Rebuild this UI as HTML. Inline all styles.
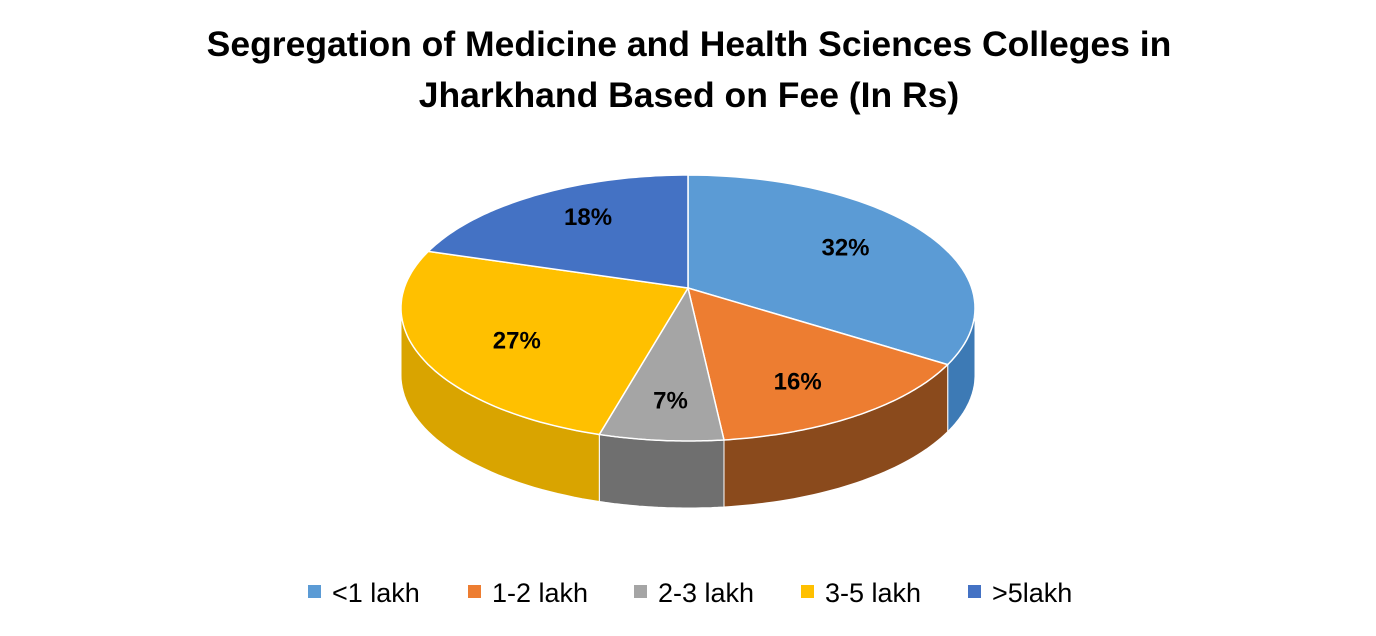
<!DOCTYPE html>
<html><head><meta charset="utf-8"><style>
body{margin:0;width:1376px;height:631px;background:#fff;font-family:"Liberation Sans",sans-serif;overflow:hidden}
</style></head><body>
<svg id="chart" width="1376" height="631">
<text x="689" y="56" text-anchor="middle" font-size="35.5" font-weight="bold" fill="#000">Segregation of Medicine and Health Sciences Colleges in</text>
<text x="689" y="107" text-anchor="middle" font-size="35.5" font-weight="bold" fill="#000">Jharkhand Based on Fee (In Rs)</text>
<g id="pie"></g>
<g id="legend"></g>
</svg>
<script>
const categories = ["<1 lakh","1-2 lakh","2-3 lakh","3-5 lakh",">5lakh"];
const values = [32,16,7,27,18];
const labels = ["32%","16%","7%","27%","18%"];
const colors = ["#5B9BD5","#ED7D31","#A5A5A5","#FFC000","#4472C4"];
const sideColors = ["#3d7ab5","#8a4a1c","#6f6f6f","#d9a400","#2f549a"];
const NS="http://www.w3.org/2000/svg";
const cx=688, cy=308, rx=287, ry=133, depth=67, apexY=288;
const pie=document.getElementById('pie');
const total=values.reduce((a,b)=>a+b,0);
function pt(t,dy){return [cx+rx*Math.sin(t), cy-ry*Math.cos(t)+(dy||0)];}
function arc(t1,t2,dy,steps){let s=[];for(let i=0;i<=steps;i++){const t=t1+(t2-t1)*i/steps;s.push(pt(t,dy));}return s;}
let angles=[];let acc=0;
values.forEach(v=>{const a=acc/total*2*Math.PI;acc+=v;angles.push([a,acc/total*2*Math.PI]);});
angles.forEach(([a,b],i)=>{
  const lo=Math.max(a,Math.PI/2), hi=Math.min(b,3*Math.PI/2);
  if(hi<=lo) return;
  const top=arc(lo,hi,0,40), bot=arc(hi,lo,depth,40);
  const d='M'+top.concat(bot).map(p=>p[0].toFixed(1)+','+p[1].toFixed(1)).join('L')+'Z';
  const p=document.createElementNS(NS,'path');
  p.setAttribute('d',d);p.setAttribute('fill',sideColors[i]);p.setAttribute('stroke','#fff');p.setAttribute('stroke-width','1');
  
  
  pie.appendChild(p);
});
angles.forEach(([a,b],i)=>{
  const pts=arc(a,b,0,60);
  const d='M'+cx+','+apexY+'L'+pts.map(p=>p[0].toFixed(1)+','+p[1].toFixed(1)).join('L')+'Z';
  const p=document.createElementNS(NS,'path');
  p.setAttribute('d',d);p.setAttribute('fill',colors[i]);p.setAttribute('stroke','#fff');p.setAttribute('stroke-width','1.5');
  
  
  pie.appendChild(p);
  const m=(a+b)/2;
  const lp=[cx+rx*0.65*Math.sin(m), 300-ry*0.75*Math.cos(m)+9];
  const t=document.createElementNS(NS,'text');
  t.setAttribute('x',lp[0]);t.setAttribute('y',lp[1]);t.setAttribute('text-anchor','middle');
  t.setAttribute('font-size','24');t.setAttribute('font-weight','bold');t.setAttribute('fill','#000');
  t.textContent=labels[i];
  
  
  pie.appendChild(t);
});
const lg=document.getElementById('legend');
const lx=[308,468,634,801,968];
categories.forEach((c,i)=>{
  const g=document.createElementNS(NS,'g');
  
  
  const r=document.createElementNS(NS,'rect');
  r.setAttribute('x',lx[i]);r.setAttribute('y',585);r.setAttribute('width',13);r.setAttribute('height',13);r.setAttribute('fill',colors[i]);
  const t=document.createElementNS(NS,'text');
  t.setAttribute('x',lx[i]+24);t.setAttribute('y',602);t.setAttribute('font-size','27');t.setAttribute('fill','#000');
  t.textContent=c;
  g.appendChild(r);g.appendChild(t);lg.appendChild(g);
});
</script>
</body></html>
